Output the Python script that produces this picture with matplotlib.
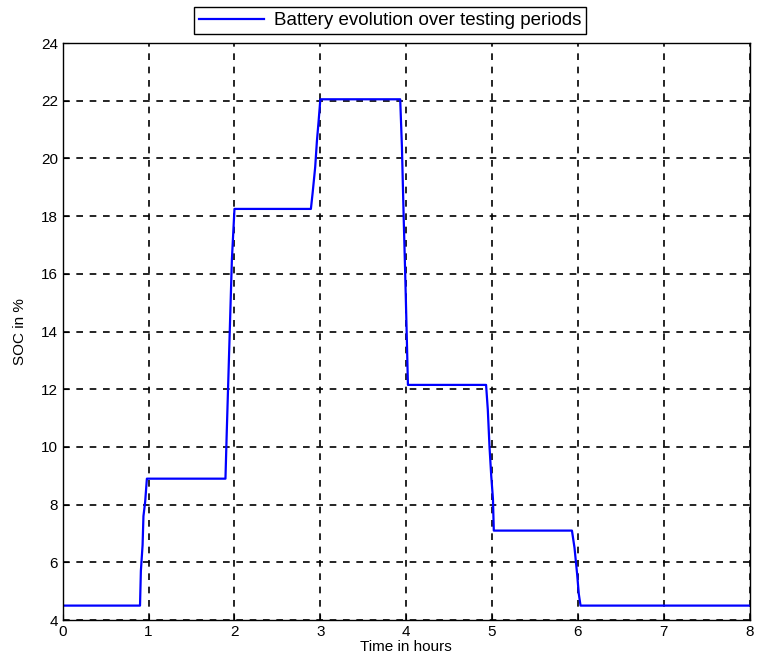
import matplotlib
matplotlib.use("Agg")
import matplotlib.pyplot as plt

plt.rcParams['font.family'] = ['Liberation Sans', 'DejaVu Sans']

time_h = [0.0, 0.90, 0.91, 0.93, 0.94, 0.96, 0.98, 1.895, 1.91, 1.93, 1.95, 1.97, 2.0,
          2.89, 2.91, 2.94, 2.96, 2.98, 3.0, 3.93, 3.95, 3.97, 3.99, 4.01, 4.02,
          4.93, 4.95, 4.97, 4.99, 5.01, 5.02, 5.93, 5.96, 5.99, 6.01, 6.03, 8.0]
soc = [4.5, 4.5, 5.7, 6.6, 7.6, 8.1, 8.9, 8.9, 10.5, 12.5, 14.5, 16.5, 18.25,
       18.25, 18.8, 19.7, 20.6, 21.3, 22.05, 22.05, 20.4, 18.0, 15.8, 13.4, 12.15,
       12.15, 11.3, 10.0, 9.0, 8.2, 7.1, 7.1, 6.5, 5.6, 4.9, 4.5, 4.5]

xticks = list(range(0, 9))
yticks = list(range(4, 25, 2))

fig = plt.figure(figsize=(7.65, 6.62), dpi=100)
ax = fig.add_axes([0.082, 0.0634, 0.898, 0.8716])
ax.plot(time_h, soc, color='#0000ff', lw=1.6, label='Battery evolution over testing periods')
ax.set_xlim(0, 8)
ax.set_ylim(4, 24)
ax.set_xticks(xticks)
ax.set_yticks(yticks)
ax.grid(True, color='black', linestyle=(0, (4, 4)), linewidth=1.2)
ax.tick_params(direction='in', labelsize=11, length=4)
for s in ax.spines.values():
    s.set_linewidth(1.0)
ax.set_xlabel('Time in hours', fontsize=11, labelpad=1)
ax.set_ylabel('SOC in %', fontsize=11, labelpad=10)
ax.legend(loc='upper center', bbox_to_anchor=(0.476, 1.078), fontsize=13.5, frameon=True,
          fancybox=False, edgecolor='black', framealpha=1, handlelength=3.5,
          borderpad=0.25, handletextpad=0.5)
fig.savefig('out.png', dpi=100)
